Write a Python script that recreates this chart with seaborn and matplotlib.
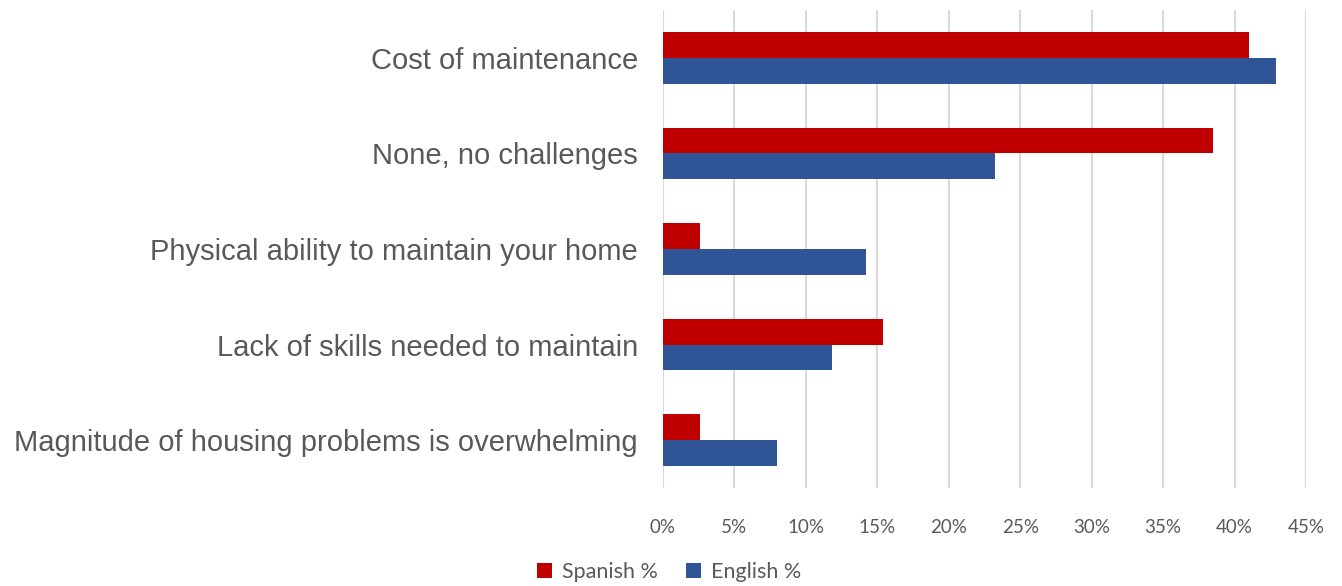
import matplotlib
matplotlib.use("Agg")
import matplotlib.pyplot as plt
import matplotlib.ticker as mticker
import seaborn as sns
import pandas as pd

categories = [
    "Cost of maintenance",
    "None, no challenges",
    "Physical ability to maintain your home",
    "Lack of skills needed to maintain",
    "Magnitude of housing problems is overwhelming",
]
spanish_pct = [0.410, 0.385, 0.026, 0.154, 0.026]
english_pct = [0.429, 0.232, 0.142, 0.118, 0.080]
series_names = ["Spanish %", "English %"]
x_ticks = [0.00, 0.05, 0.10, 0.15, 0.20, 0.25, 0.30, 0.35, 0.40, 0.45]

df = pd.DataFrame({
    "Challenge": categories * 2,
    "Share": spanish_pct + english_pct,
    "Group": [series_names[0]] * len(categories) + [series_names[1]] * len(categories),
})

sns.set_theme(style="white")
plt.rcParams["font.family"] = ["Liberation Sans", "DejaVu Sans"]

fig = plt.figure(figsize=(13.42, 5.86), dpi=100)
ax = fig.add_axes([663 / 1342, 1 - 488 / 586, (1306 - 663) / 1342, (488 - 10) / 586])

sns.barplot(
    data=df, x="Share", y="Challenge", hue="Group", hue_order=series_names,
    order=categories, palette=["#C00000", "#2F5597"], orient="h",
    width=0.54, gap=0, saturation=1, ax=ax, legend=True, linewidth=0,
)

ax.set_xlim(0, 0.45)
ax.set_xticks(x_ticks)
ax.xaxis.set_major_formatter(mticker.PercentFormatter(xmax=1, decimals=0))
ax.grid(axis="x", color="#D9D9D9", linewidth=1.5)
ax.set_axisbelow(True)
for s in ax.spines.values():
    s.set_visible(False)
ax.set_xlabel("")
ax.set_ylabel("")
ax.tick_params(axis="x", length=0, pad=22, labelsize=13.5, labelcolor="#595959")
ax.tick_params(axis="y", length=0, pad=18, labelsize=21, labelcolor="#595959")
for lbl in ax.get_xticklabels():
    lbl.set_fontfamily(["Lato", "DejaVu Sans"])

ax.get_legend().remove()
handles, labels = ax.get_legend_handles_labels()
fig.legend(
    handles, labels, loc="center", bbox_to_anchor=(669 / 1342, 1 - 572 / 586),
    ncol=2, frameon=False, handlelength=0.7, handleheight=0.7,
    handletextpad=0.45, columnspacing=1.3,
    prop={"family": ["Lato", "DejaVu Sans"], "size": 15.5},
    labelcolor="#595959",
)

fig.savefig("out.png", dpi=100)
